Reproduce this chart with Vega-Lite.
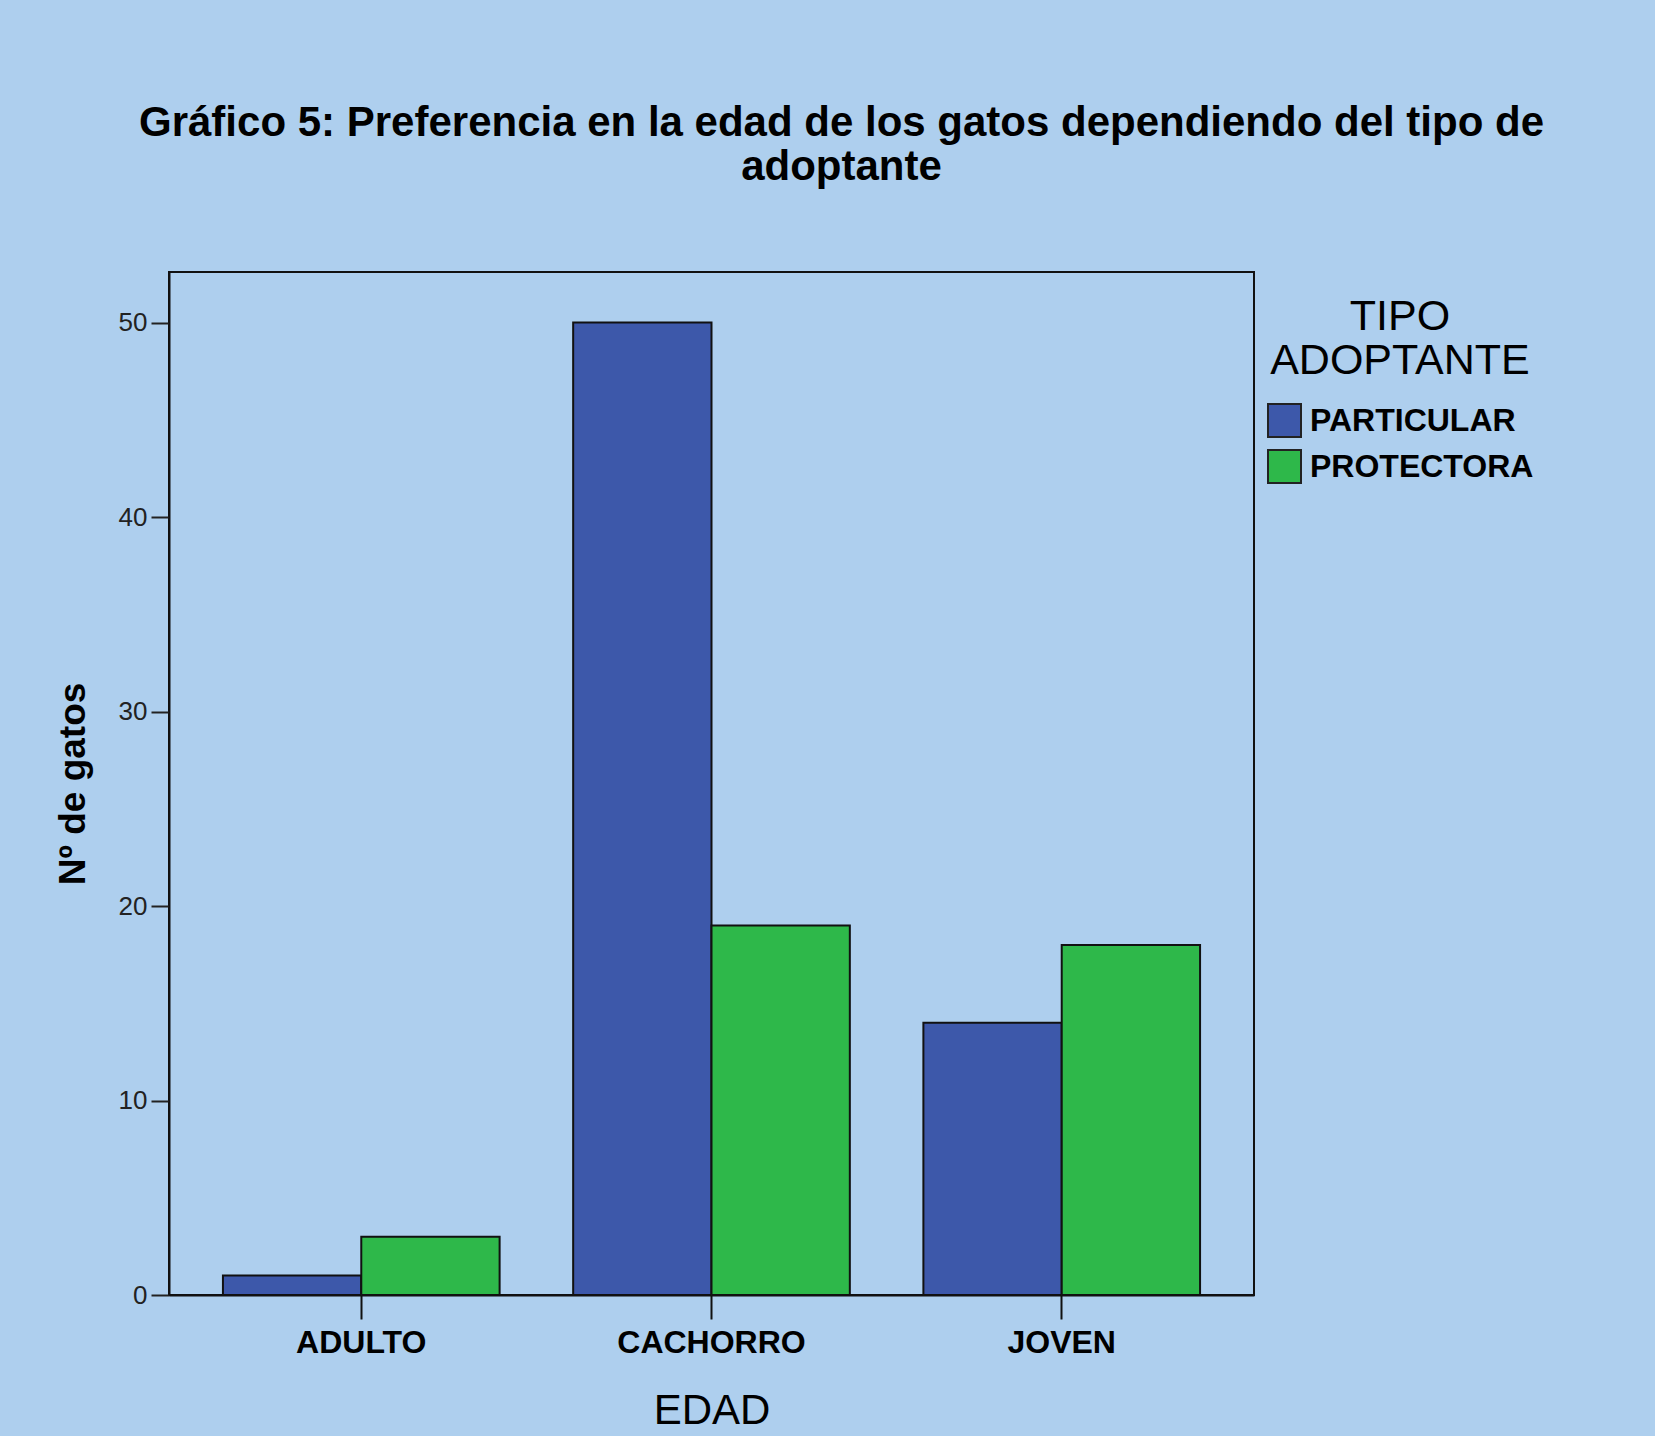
{
  "$schema": "https://vega.github.io/schema/vega-lite/v6.json",
  "autosize": {"type": "none"},
  "width": 1085,
  "height": 1023,
  "padding": {"left": 169, "top": 272, "right": 401, "bottom": 141},
  "background": "#aecfee",
  "title": {
    "text": ["Gráfico 5: Preferencia en la edad de los gatos dependiendo del tipo de", "adoptante"],
    "font": "Liberation Sans",
    "fontSize": 42,
    "fontWeight": "bold",
    "color": "#000000",
    "anchor": "middle",
    "frame": "group",
    "dx": 130,
    "lineHeight": 44,
    "offset": 83
  },
  "data": {
    "values": [
      {"edad": "ADULTO", "tipo": "PARTICULAR", "n": 1},
      {"edad": "ADULTO", "tipo": "PROTECTORA", "n": 3},
      {"edad": "CACHORRO", "tipo": "PARTICULAR", "n": 50},
      {"edad": "CACHORRO", "tipo": "PROTECTORA", "n": 19},
      {"edad": "JOVEN", "tipo": "PARTICULAR", "n": 14},
      {"edad": "JOVEN", "tipo": "PROTECTORA", "n": 18}
    ]
  },
  "mark": {"type": "bar", "stroke": "#111111", "strokeWidth": 2, "opacity": 1},
  "encoding": {
    "x": {
      "field": "edad",
      "type": "nominal",
      "sort": ["ADULTO", "CACHORRO", "JOVEN"],
      "scale": {"paddingInner": 0.21, "paddingOuter": 0.154},
      "axis": {
        "title": "EDAD",
        "labelAngle": 0,
        "labelLimit": 0,
        "labelFont": "Liberation Sans",
        "labelFontSize": 32,
        "labelFontWeight": "bold",
        "labelColor": "#000000",
        "labelPadding": 8,
        "titleFont": "Liberation Sans",
        "titleFontSize": 42,
        "titleFontWeight": "normal",
        "titleColor": "#000000",
        "titlePadding": 32,
        "tickSize": 24,
        "tickWidth": 2,
        "tickColor": "#111111",
        "domainColor": "#111111",
        "domainWidth": 2
      }
    },
    "xOffset": {
      "field": "tipo",
      "type": "nominal",
      "scale": {"paddingInner": 0, "paddingOuter": 0}
    },
    "y": {
      "field": "n",
      "type": "quantitative",
      "scale": {"domain": [0, 52.6], "nice": false, "zero": true},
      "axis": {
        "title": "Nº de gatos",
        "values": [0, 10, 20, 30, 40, 50],
        "grid": false,
        "labelFont": "Liberation Sans",
        "labelFontSize": 26,
        "labelColor": "#222222",
        "labelPadding": 4,
        "titleFont": "Liberation Sans",
        "titleFontSize": 37,
        "titleFontWeight": "bold",
        "titleColor": "#000000",
        "titlePadding": 26,
        "tickSize": 18,
        "tickWidth": 2,
        "tickColor": "#222222",
        "domainColor": "#111111",
        "domainWidth": 2
      }
    },
    "color": {
      "field": "tipo",
      "type": "nominal",
      "scale": {"domain": ["PARTICULAR", "PROTECTORA"], "range": ["#3d58aa", "#2eb84a"]},
      "legend": {
        "title": ["TIPO", "ADOPTANTE"],
        "orient": "none",
        "legendX": 1098,
        "legendY": 24,
        "titleFont": "Liberation Sans",
        "titleFontSize": 43,
        "titleFontWeight": "normal",
        "titleColor": "#000000",
        "titleAlign": "center",
        "titleAnchor": "middle",
        "titleLineHeight": 44,
        "titlePadding": 20,
        "titleLimit": 0,
        "labelLimit": 0,
        "labelFont": "Liberation Sans",
        "labelFontSize": 32,
        "labelFontWeight": "bold",
        "labelColor": "#000000",
        "labelOffset": 8,
        "symbolType": "square",
        "symbolSize": 1089,
        "symbolStrokeColor": "#222222",
        "symbolStrokeWidth": 2,
        "symbolOpacity": 1,
        "rowPadding": 5
      }
    }
  },
  "config": {
    "view": {"stroke": "#111111", "strokeWidth": 2}
  }
}
